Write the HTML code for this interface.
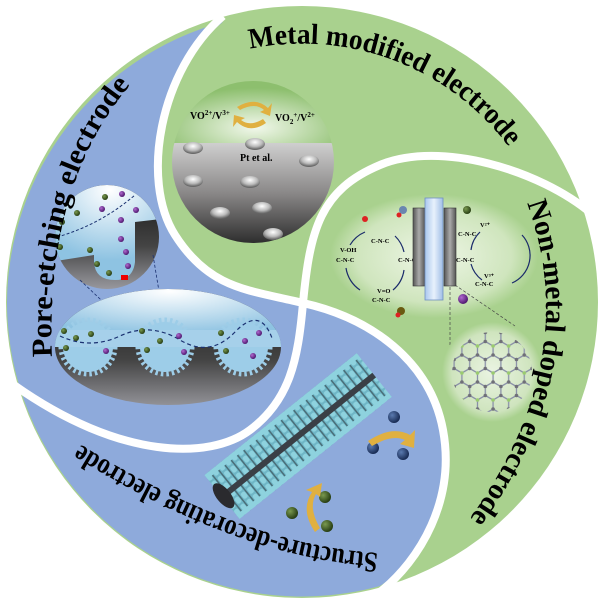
<!DOCTYPE html>
<html><head><meta charset="utf-8"><style>
html,body{margin:0;padding:0;background:#fff;}
svg{display:block;}
.t{font-family:"Liberation Serif",serif;font-weight:bold;font-size:29px;fill:#000;}
.s{font-family:"Liberation Serif",serif;font-weight:bold;fill:#000;}
</style></head><body>
<svg width="602" height="603" viewBox="0 0 602 603" xmlns="http://www.w3.org/2000/svg">
<defs>
<radialGradient id="gTop" cx="0.5" cy="0.75" r="0.6"><stop offset="0" stop-color="#f2f8ec"/><stop offset="1" stop-color="#8dbf6e"/></radialGradient>
<linearGradient id="gGray" x1="0" y1="0" x2="0" y2="1"><stop offset="0" stop-color="#cfcfcf"/><stop offset="0.5" stop-color="#8a8888"/><stop offset="1" stop-color="#2e2e2e"/></linearGradient>
<radialGradient id="gNm" cx="0.5" cy="0.5" r="0.5"><stop offset="0" stop-color="#eef6e6"/><stop offset="0.75" stop-color="#cfe5bd"/><stop offset="1" stop-color="#a9d18e"/></radialGradient>
<radialGradient id="gGr" cx="0.5" cy="0.5" r="0.5"><stop offset="0" stop-color="#eaf4e2"/><stop offset="0.8" stop-color="#cfe4be"/><stop offset="1" stop-color="#a9d18e"/></radialGradient>
<radialGradient id="gDome" cx="0.5" cy="0.1" r="0.7"><stop offset="0" stop-color="#ffffff"/><stop offset="1" stop-color="#8ec3e2"/></radialGradient>
<linearGradient id="gDark" x1="0" y1="0" x2="0" y2="1"><stop offset="0" stop-color="#111"/><stop offset="0.6" stop-color="#444"/><stop offset="1" stop-color="#9a9aa0"/></linearGradient>
<radialGradient id="gPill" cx="0.5" cy="0.35" r="0.6"><stop offset="0" stop-color="#fff"/><stop offset="0.6" stop-color="#bbb"/><stop offset="1" stop-color="#666"/></radialGradient>
<linearGradient id="gBar" x1="0" y1="0" x2="1" y2="0"><stop offset="0" stop-color="#a9c7ee"/><stop offset="0.5" stop-color="#e8f1fc"/><stop offset="1" stop-color="#9fbde6"/></linearGradient>
<linearGradient id="gEl" x1="0" y1="0" x2="1" y2="0"><stop offset="0" stop-color="#555"/><stop offset="0.5" stop-color="#aaa"/><stop offset="1" stop-color="#555"/></linearGradient>
<pattern id="bristle" width="8" height="9" patternUnits="userSpaceOnUse"><rect width="8" height="9" fill="#6fb6c6"/><rect x="0" y="0" width="5" height="7" rx="2" fill="#8ed2de"/><rect x="5.5" y="0" width="1.5" height="9" fill="#4a6e78"/></pattern>
<pattern id="hex" width="15.59" height="27" patternUnits="userSpaceOnUse" x="2" y="4">
<path d="M0,4.5 L7.79,0 L15.59,4.5 M0,4.5 V13.5 L7.79,18 L15.59,13.5 V4.5 M7.79,18 V27" fill="none" stroke="#8a90a8" stroke-width="1.3"/>
<circle cx="7.79" cy="0" r="1.8" fill="#6f6f78"/><circle cx="0" cy="4.5" r="1.8" fill="#6f6f78"/><circle cx="15.59" cy="4.5" r="1.8" fill="#6f6f78"/><circle cx="0" cy="13.5" r="1.8" fill="#6f6f78"/><circle cx="15.59" cy="13.5" r="1.8" fill="#6f6f78"/><circle cx="7.79" cy="18" r="1.8" fill="#9acb70"/><circle cx="7.79" cy="27" r="1.8" fill="#6f6f78"/>
</pattern>
<radialGradient id="bDot" cx="0.35" cy="0.35" r="0.7"><stop offset="0" stop-color="#5a7ab0"/><stop offset="1" stop-color="#14264e"/></radialGradient>
<radialGradient id="gDot" cx="0.35" cy="0.35" r="0.7"><stop offset="0" stop-color="#7a9a50"/><stop offset="1" stop-color="#22380f"/></radialGradient>
<radialGradient id="pDot" cx="0.35" cy="0.35" r="0.7"><stop offset="0" stop-color="#b06ad0"/><stop offset="1" stop-color="#4a136a"/></radialGradient>
<path id="pMetal" d="M250,49 A258,258 0 0 1 514,154"/>
<path id="pNon" d="M527,203 Q584,360 470,518"/>
<path id="pPore" d="M52,357 Q45,190 126,90"/>
<path id="pStr" d="M378,553 Q242,545 80,444"/>
</defs>

<circle cx="302" cy="302" r="296" fill="#a9d18e"/>
<path d="M223,22 A293,293 0 0 0 7,303 A295,295 0 0 0 380,586 C420,560 456,500 443,430 C430,360 370,318 303,303 C250,290 210,290 175,235 C140,180 160,70 223,22 Z" fill="#8eaadb"/>
<path d="M223,16 C160,70 140,180 175,235 S250,290 303,303 C370,318 430,360 443,430 S420,560 380,592" fill="none" stroke="#fff" stroke-width="8"/>
<path d="M592,214 C540,170 440,140 380,165 S310,230 303,303 C298,360 290,400 250,430 S120,460 14,385" fill="none" stroke="#fff" stroke-width="8"/>

<!-- Metal inset -->
<g>
<clipPath id="cM"><circle cx="253" cy="162" r="81"/></clipPath>
<g clip-path="url(#cM)">
<rect x="170" y="78" width="170" height="66" fill="url(#gTop)"/>
<rect x="170" y="143" width="170" height="100" fill="url(#gGray)"/>
</g>
<g fill="url(#gPill)">
<ellipse cx="193" cy="148" rx="10" ry="6"/><ellipse cx="255" cy="144" rx="10" ry="6"/>
<ellipse cx="309" cy="161" rx="10" ry="6"/><ellipse cx="193" cy="181" rx="10" ry="6"/>
<ellipse cx="250" cy="182" rx="10" ry="6"/><ellipse cx="262" cy="208" rx="10" ry="6"/>
<ellipse cx="220" cy="213" rx="10" ry="6"/><ellipse cx="273" cy="234" rx="10" ry="6"/>
</g>
<text class="s" x="190" y="119" font-size="10">VO<tspan font-size="7" dy="-4">2+</tspan><tspan dy="4">/V</tspan><tspan font-size="7" dy="-4">3+</tspan></text>
<text class="s" x="275" y="121" font-size="10">VO<tspan font-size="7" dy="3">2</tspan><tspan font-size="7" dy="-7">+</tspan><tspan dy="4">/V</tspan><tspan font-size="7" dy="-4">2+</tspan></text>
<text class="s" x="240" y="161" font-size="10">Pt et al.</text>
<path d="M237,107 Q255,96 268,108 L272,103 L270,116 L260,112 L264,110 Q255,102 240,110 Z" fill="#e0b040"/>
<path d="M266,123 Q250,134 237,122 L233,127 L234,115 L245,118 L241,120 Q250,127 263,119 Z" fill="#e0b040"/>
</g>

<!-- Non-metal inset -->
<ellipse cx="434" cy="256" rx="104" ry="62" fill="url(#gNm)"/>
<g fill="none" stroke="#1a2a6a" stroke-width="1.2">
<path d="M395,236 A32,32 0 0 1 404,252"/><path d="M404,270 A32,32 0 0 1 393,290"/><path d="M360,290 A32,32 0 0 1 346,268"/><path d="M350,245 A32,32 0 0 1 365,232"/>
<path d="M480,232 A30,30 0 0 0 471,250"/><path d="M471,264 A30,30 0 0 0 482,280"/><path d="M512,283 A30,30 0 0 0 522,235"/>
</g>
<g class="s" font-size="6.5">
<text x="336" y="262">C-N-C</text><text x="340" y="252">V-OH</text>
<text x="371" y="243">C-N-C</text><text x="398" y="262">C-N-C</text>
<text x="377" y="293">V=O</text><text x="372" y="302">C-N-C</text>
<text x="458" y="236">C-N-C</text><text x="456" y="262">C-N-C</text>
<text x="475" y="286">C-N-C</text><text x="480" y="227">V²⁺</text><text x="484" y="278">V³⁺</text>
</g>
<rect x="413" y="208" width="12" height="78" fill="url(#gEl)" stroke="#333" stroke-width="0.6"/>
<rect x="444" y="208" width="12" height="78" fill="url(#gEl)" stroke="#333" stroke-width="0.6"/>
<rect x="425" y="198" width="18" height="102" fill="url(#gBar)" stroke="#7090c0" stroke-width="0.8"/>
<circle cx="403" cy="210" r="4" fill="#6a86b0"/><circle cx="399" cy="215" r="2.5" fill="#d22"/>
<circle cx="401" cy="311" r="4" fill="#6a5a10"/><circle cx="398" cy="315" r="2.5" fill="#d22"/>
<circle cx="467" cy="210" r="4" fill="url(#gDot)"/><circle cx="463" cy="299" r="5" fill="url(#pDot)"/>
<circle cx="365" cy="219" r="3" fill="#d22"/>
<g stroke="#444" stroke-width="0.7" stroke-dasharray="3,2" fill="none"><path d="M450,287 L450,345"/><path d="M455,285 L515,326"/></g>
<circle cx="492" cy="372" r="50" fill="url(#gGr)"/>
<circle cx="492" cy="372" r="40" fill="url(#hex)"/>

<!-- Pore-etching upper inset -->
<clipPath id="cP1"><circle cx="107" cy="237" r="52"/></clipPath>
<g clip-path="url(#cP1)">
<rect x="50" y="180" width="120" height="110" fill="url(#gDark)"/>
<path d="M50,180 H170 V218 L135,222 L135,262 Q133,280 115,280 Q95,280 94,262 L94,255 L50,262 Z" fill="url(#gDome)"/>
</g>
<g fill="url(#gDot)"><circle cx="105" cy="197" r="3"/><circle cx="77" cy="213" r="3"/><circle cx="62" cy="222" r="3"/><circle cx="60" cy="247" r="3"/><circle cx="90" cy="250" r="3"/><circle cx="97" cy="264" r="3"/><circle cx="109" cy="273" r="3"/></g>
<g fill="url(#pDot)"><circle cx="122" cy="194" r="3"/><circle cx="102" cy="209" r="3"/><circle cx="136" cy="210" r="3"/><circle cx="121" cy="220" r="3"/><circle cx="121" cy="239" r="3"/><circle cx="126" cy="252" r="3"/><circle cx="128" cy="266" r="3"/></g>
<path d="M57,237 Q100,225 135,195" fill="none" stroke="#1a3070" stroke-width="1" stroke-dasharray="3,2"/>
<rect x="121" y="275" width="7" height="5" fill="#e00"/>
<g stroke="#1a3070" stroke-width="0.8" stroke-dasharray="3,2" fill="none"><path d="M80,280 L175,370"/><path d="M153,255 L172,370"/></g>

<!-- Pore lower inset -->
<clipPath id="cP2"><ellipse cx="168" cy="347" rx="113" ry="58"/></clipPath>
<g clip-path="url(#cP2)">
<rect x="50" y="285" width="240" height="125" fill="url(#gDark)"/>
<rect x="50" y="285" width="240" height="62" fill="url(#gDome)"/>
<g fill="#9dcde8">
<circle cx="88" cy="347" r="25"/><circle cx="165" cy="347" r="25"/><circle cx="243" cy="347" r="25"/>
</g>
<g fill="none" stroke="#9dcde8" stroke-width="5" stroke-dasharray="2.5,3">
<circle cx="88" cy="347" r="27"/><circle cx="165" cy="347" r="27"/><circle cx="243" cy="347" r="27"/>
</g>
<rect x="50" y="330" width="240" height="17" fill="#a6d0ea"/>
</g>
<path d="M60,336 Q90,350 120,336 T180,340 T235,332 T272,338" fill="none" stroke="#1a3070" stroke-width="1.2" stroke-dasharray="4,3"/>
<g fill="url(#gDot)"><circle cx="64" cy="331" r="3"/><circle cx="76" cy="338" r="3"/><circle cx="91" cy="334" r="3"/><circle cx="142" cy="331" r="3"/><circle cx="160" cy="341" r="3"/><circle cx="147" cy="350" r="3"/><circle cx="221" cy="333" r="3"/><circle cx="226" cy="351" r="3"/><circle cx="66" cy="348" r="3"/></g>
<g fill="url(#pDot)"><circle cx="179" cy="336" r="3"/><circle cx="184" cy="352" r="3"/><circle cx="106" cy="351" r="3"/><circle cx="245" cy="341" r="3"/><circle cx="259" cy="333" r="3"/><circle cx="253" cy="356" r="3"/></g>

<!-- Nanorod brush -->
<g transform="translate(222,497) rotate(-38.7)">
<rect x="0" y="-28" width="195" height="56" fill="url(#bristle)"/>
<rect x="0" y="-28" width="195" height="5" fill="#8ed2de"/>
<rect x="0" y="23" width="195" height="5" fill="#8ed2de"/>
<rect x="0" y="-3" width="195" height="6" fill="#3a3f46"/>
<ellipse cx="2" cy="0" rx="7" ry="15" fill="#2a2a2e"/>
</g>
<g fill="url(#bDot)"><circle cx="394" cy="417" r="6"/><circle cx="373" cy="448" r="6"/><circle cx="403" cy="454" r="6"/></g>
<g fill="url(#gDot)"><circle cx="325" cy="497" r="6"/><circle cx="292" cy="513" r="6"/><circle cx="327" cy="526" r="6"/></g>
<path d="M368,441 Q392,425 410,435 L415,430 L414,448 L400,444 L405,440 Q392,434 372,446 Z" fill="#e0b040"/>
<path d="M315,532 Q300,510 312,492 L306,490 L322,483 L320,497 L316,494 Q308,508 320,528 Z" fill="#e0b040"/>

<text class="t"><textPath href="#pMetal" textLength="292" lengthAdjust="spacingAndGlyphs">Metal modified electrode</textPath></text>
<text class="t"><textPath href="#pNon" textLength="335" lengthAdjust="spacingAndGlyphs">Non-metal doped electrode</textPath></text>
<text class="t"><textPath href="#pPore" textLength="290" lengthAdjust="spacingAndGlyphs">Pore-etching electrode</textPath></text>
<text class="t"><textPath href="#pStr" textLength="320" lengthAdjust="spacingAndGlyphs">Structure-decorating electrode</textPath></text>
</svg>
</body></html>
